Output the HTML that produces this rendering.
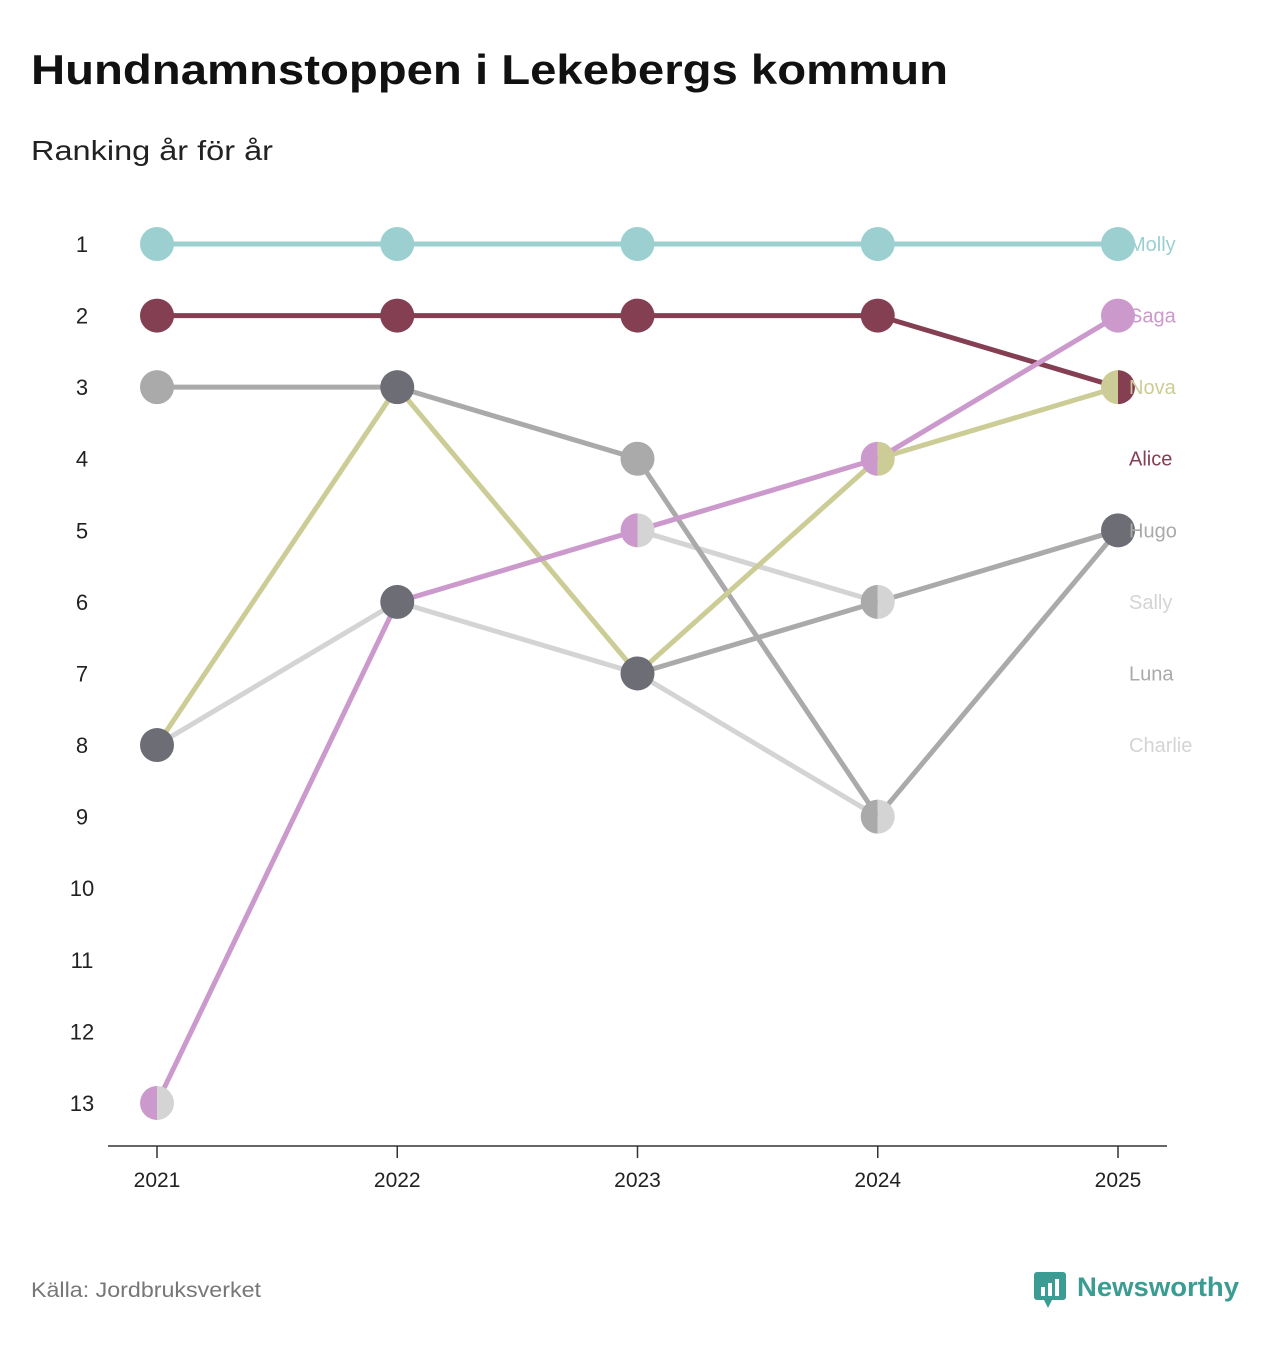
<!DOCTYPE html>
<html><head><meta charset="utf-8"><style>
body{margin:0;background:#fff;width:1273px;height:1340px;overflow:hidden;font-family:"Liberation Sans","DejaVu Sans",sans-serif;}
</style></head><body>
<svg width="1273" height="1340" xmlns="http://www.w3.org/2000/svg" id="chart">
<text x="31" y="84" font-size="42" font-weight="bold" fill="#111" textLength="917" lengthAdjust="spacingAndGlyphs">Hundnamnstoppen i Lekebergs kommun</text>
<text x="31" y="160" font-size="28" fill="#222" textLength="242" lengthAdjust="spacingAndGlyphs">Ranking år för år</text>
<g id="axes"></g><g id="lines"></g><g id="dots"></g><g id="labels"></g>
<text x="31" y="1297" font-size="21" fill="#777" textLength="230" lengthAdjust="spacingAndGlyphs">Källa: Jordbruksverket</text>
<g>
<rect x="1034" y="1272" width="32" height="28" rx="3" fill="#3a9c93"/>
<polygon points="1044,1300 1052,1300 1048,1308" fill="#3a9c93"/>
<rect x="1041" y="1287" width="4" height="9" fill="#fff"/><rect x="1048" y="1283" width="4" height="13" fill="#fff"/><rect x="1055" y="1279" width="4" height="17" fill="#fff"/>
<text x="1077" y="1296" font-size="27" font-weight="bold" fill="#3a9c93" textLength="162" lengthAdjust="spacingAndGlyphs">Newsworthy</text>
</g>
</svg>
<script>
const years=[2021,2022,2023,2024,2025];
const names=["Charlie","Sally","Luna","Hugo","Alice","Nova","Saga","Molly"];
const colors=["#d4d4d4","#d4d4d4","#aaaaaa","#aaaaaa","#843f52","#cccc96","#cc99cc","#9ccfcf"];
const ranks=[
[13,null,5,6,null],
[8,6,7,9,null],
[8,null,7,6,5],
[3,3,4,9,5],
[2,2,2,2,3],
[8,3,7,4,3],
[13,6,5,4,2],
[1,1,1,1,1]];
const darkPoints=["2021-8","2022-3","2022-6","2023-7","2025-5"];
const labelOrder=["Molly","Saga","Nova","Alice","Hugo","Sally","Luna","Charlie"];
const labelColors=["#9ccfcf","#cc99cc","#cccc96","#843f52","#aaaaaa","#d4d4d4","#aaaaaa","#d4d4d4"];
const rankTicks=[1,2,3,4,5,6,7,8,9,10,11,12,13];
const NS="http://www.w3.org/2000/svg";
const x=i=>157+i*240.25;
const y=r=>244+(r-1)*71.58;
function mk(tag,attrs,parent,txt){const e=document.createElementNS(NS,tag);for(const k in attrs)e.setAttribute(k,attrs[k]);if(txt!=null)e.textContent=txt;document.getElementById(parent).appendChild(e);return e;}
let a=mk("line",{x1:108,x2:1167,y1:1146,y2:1146,stroke:"#333","stroke-width":1.5},"axes");


years.forEach((yr,i)=>{
 let t=mk("line",{x1:x(i),x2:x(i),y1:1146,y2:1158,stroke:"#333","stroke-width":1.5},"axes");
 
 
 let l=mk("text",{x:x(i),y:1187,"font-size":21,fill:"#222","text-anchor":"middle"},"axes",yr);
 
 
});
rankTicks.forEach(r=>{
 let l=mk("text",{x:82,y:y(r)+8,"font-size":22,fill:"#222","text-anchor":"middle"},"axes",r);
 
 
});
names.forEach((n,s)=>{
 const v=ranks[s];
 for(let i=0;i<v.length-1;i++){
  if(v[i]==null||v[i+1]==null)continue;
  let ln=mk("line",{x1:x(i),y1:y(v[i]),x2:x(i+1),y2:y(v[i+1]),stroke:colors[s],"stroke-width":5},"lines");
  
  
 }
});
years.forEach((yr,i)=>{
 const groups={};
 names.forEach((n,s)=>{const r=ranks[s][i];if(r!=null)(groups[r]=groups[r]||[]).push(s);});
 for(const r in groups){
  const g=groups[r],cx=x(i),cy=y(+r),R=17;
  if(g.length==1){
   let c=mk("circle",{cx:cx,cy:cy,r:R,fill:colors[g[0]]},"dots");
   
   
  }else if(g.length>=3||darkPoints.includes(yr+"-"+r)){
   let c=mk("circle",{cx:cx,cy:cy,r:R,fill:"#6d6d75"},"dots");
   
   
  }else{
   const a1=colors[g[g.length-1]],a2=colors[g[0]];
   let p1=mk("path",{d:`M${cx},${cy-R} A${R},${R} 0 0 0 ${cx},${cy+R} Z`,fill:a1},"dots");
   
   
   let p2=mk("path",{d:`M${cx},${cy-R} A${R},${R} 0 0 1 ${cx},${cy+R} Z`,fill:a2},"dots");
   
   
  }
 }
});
labelOrder.forEach((n,i)=>{
 let t=mk("text",{x:1129,y:y(i+1)+7,"font-size":20,fill:labelColors[i]},"labels",n);
 
 
});
</script>
</body></html>
